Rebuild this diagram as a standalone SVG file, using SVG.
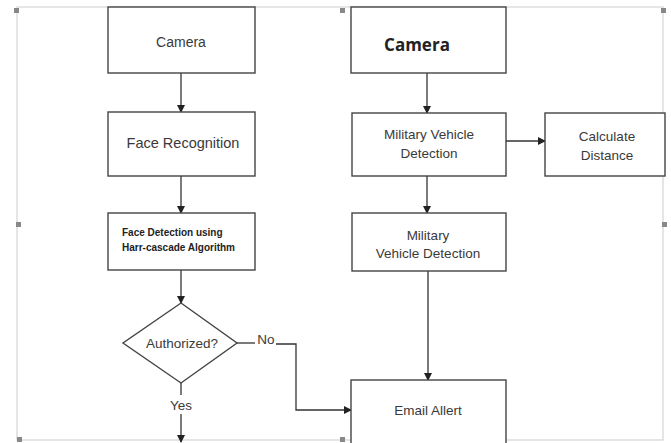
<svg xmlns="http://www.w3.org/2000/svg" width="671" height="443" viewBox="0 0 671 443">
<defs>
<marker id="arr" markerWidth="8" markerHeight="8" refX="7" refY="4" orient="auto" markerUnits="userSpaceOnUse">
<path d="M0,0 L8,4 L0,8 Z" fill="#222"/>
</marker>
<style>
.box{fill:#fff;stroke:#444;stroke-width:1.4}
.t{font-family:"Liberation Sans",Arial,sans-serif;font-size:14px;fill:#3a3a3a;text-anchor:middle}
.c{fill:none;stroke:#333;stroke-width:1.3}
.h{fill:#888}
</style>
</defs>
<rect width="671" height="443" fill="#fff"/>
<g id="frame">
<rect x="17" y="7" width="646" height="433" fill="none" stroke="#d4d4d4" stroke-width="1.2"/>
<rect class="h" x="14" y="8" width="5" height="5"/>
<rect class="h" x="340" y="8" width="5" height="5"/>
<rect class="h" x="661" y="8" width="5" height="5"/>
<rect class="h" x="16" y="222" width="5" height="5"/>
<rect class="h" x="662" y="222" width="5" height="5"/>
<rect class="h" x="17" y="437" width="5" height="5"/>
<rect class="h" x="340" y="437" width="5" height="5"/>
</g>
<g id="connectors">
<line class="c" x1="181" y1="73" x2="181" y2="112" marker-end="url(#arr)"/>
<line class="c" x1="181" y1="176" x2="181" y2="213" marker-end="url(#arr)"/>
<line class="c" x1="181" y1="270" x2="181" y2="303" marker-end="url(#arr)"/>
<line class="c" x1="181" y1="383" x2="181" y2="395"/>
<line class="c" x1="181" y1="414" x2="181" y2="442" marker-end="url(#arr)"/>
<line class="c" x1="237" y1="343" x2="255" y2="343"/>
<polyline class="c" points="276,344 296,344 296,410 351,410" marker-end="url(#arr)"/>
<line class="c" x1="427" y1="73" x2="427" y2="113" marker-end="url(#arr)"/>
<line class="c" x1="427" y1="176" x2="427" y2="213" marker-end="url(#arr)"/>
<line class="c" x1="428" y1="271" x2="428" y2="380" marker-end="url(#arr)"/>
<line class="c" x1="506" y1="141" x2="545" y2="141" marker-end="url(#arr)"/>
</g>
<g id="camera1">
<rect class="box" x="108" y="7" width="147" height="66"/>
<text class="t" x="181" y="47">Camera</text>
</g>
<g id="face-recognition">
<rect class="box" x="108" y="112" width="147" height="64"/>
<text class="t" x="183" y="148" style="font-size:14.5px">Face Recognition</text>
</g>
<g id="face-detection">
<rect class="box" x="108" y="213" width="147" height="57"/>
<text class="t" x="122" y="236" style="font-size:10px;font-weight:bold;text-anchor:start;fill:#222">Face Detection using</text>
<text class="t" x="122" y="251" style="font-size:10px;font-weight:bold;text-anchor:start;fill:#222">Harr-cascade Algorithm</text>
</g>
<g id="authorized">
<polygon class="box" points="181,303 237,343 181,383 123,343"/>
<text class="t" x="182" y="348" style="font-size:13.5px">Authorized?</text>
</g>
<g id="labels">
<text class="t" x="266" y="344" style="font-size:13.5px">No</text>
<text class="t" x="181" y="410" style="font-size:13.5px">Yes</text>
</g>
<g id="camera2">
<rect class="box" x="351" y="7" width="155" height="66"/>
<text class="t" x="417" y="51" style="font-family:'Open Sans','Liberation Sans',sans-serif;font-size:17px;font-weight:bold;fill:#222">Camera</text>
</g>
<g id="mvd1">
<rect class="box" x="352" y="113" width="154" height="63"/>
<text class="t" x="429" y="139" style="font-size:13.5px">Military Vehicle</text>
<text class="t" x="429" y="158" style="font-size:13.5px">Detection</text>
</g>
<g id="calc-distance">
<rect class="box" x="545" y="113" width="120" height="63"/>
<text class="t" x="607" y="141" style="font-size:13.5px">Calculate</text>
<text class="t" x="607" y="160" style="font-size:13.5px">Distance</text>
</g>
<g id="mvd2">
<rect class="box" x="352" y="213" width="154" height="58"/>
<text class="t" x="428" y="240" style="font-size:13.5px">Military</text>
<text class="t" x="428" y="258" style="font-size:13.5px">Vehicle Detection</text>
</g>
<g id="email-alert">
<rect class="box" x="351" y="380" width="155" height="70"/>
<text class="t" x="428" y="415" style="font-size:13.5px">Email Allert</text>
</g>
</svg>
